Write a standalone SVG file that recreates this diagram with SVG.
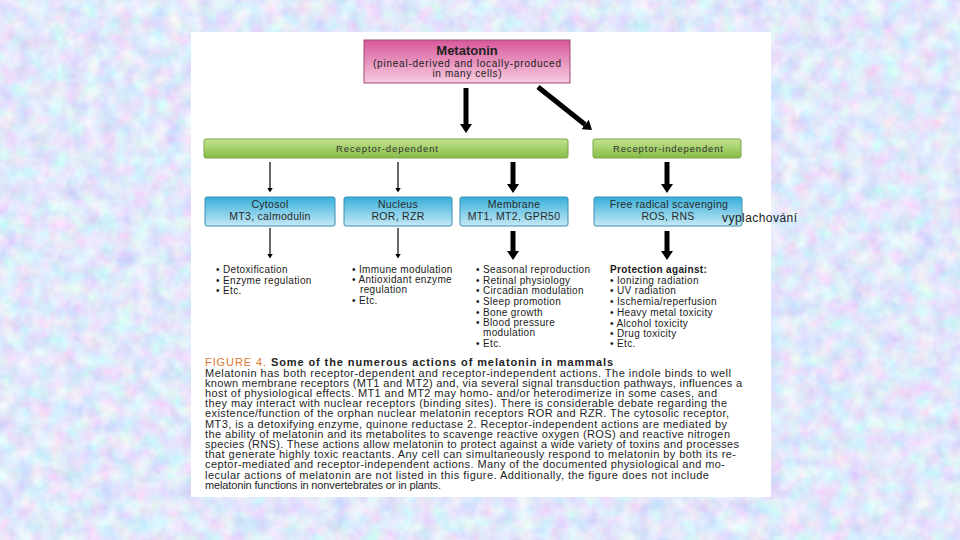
<svg xmlns="http://www.w3.org/2000/svg" width="960" height="540" viewBox="0 0 960 540">
<defs>
  <filter id="mottle" x="0" y="0" width="100%" height="100%">
    <feTurbulence type="fractalNoise" baseFrequency="0.06" numOctaves="3" seed="7"/>
    <feColorMatrix type="matrix" values="0.55 0 0 0 0.48  0 0.5 0 0 0.56  0 0 0.2 0 0.86  0 0 0 0 1"/>
  </filter>
  <linearGradient id="pink" x1="0" y1="0" x2="0" y2="1">
    <stop offset="0" stop-color="#d8579a"/>
    <stop offset="1" stop-color="#f6cde0"/>
  </linearGradient>
  <linearGradient id="green" x1="0" y1="0" x2="0" y2="1">
    <stop offset="0" stop-color="#c4e38f"/>
    <stop offset="1" stop-color="#86bd46"/>
  </linearGradient>
  <linearGradient id="blue" x1="0" y1="0" x2="0" y2="1">
    <stop offset="0" stop-color="#36b0da"/>
    <stop offset="1" stop-color="#c6e9f5"/>
  </linearGradient>
  <marker id="thick" markerUnits="userSpaceOnUse" markerWidth="9" markerHeight="12" refX="0" refY="6" orient="auto" viewBox="0 0 9 12">
    <path d="M0,0 L9,6 L0,12 z" fill="#000"/>
  </marker>
  <marker id="thin" markerUnits="userSpaceOnUse" markerWidth="5" markerHeight="6" refX="0.5" refY="3" orient="auto" viewBox="0 0 5 6">
    <path d="M0,0 L5,3 L0,6 z" fill="#000"/>
  </marker>
</defs>
<style>
  text { font-family: "Liberation Sans", Arial, sans-serif; fill: #222; }
  .box { font-size: 10.5px; fill: #2a2a2a; text-anchor: middle; letter-spacing: 0.3px; }
  .bar { font-size: 9.5px; fill: #333; text-anchor: middle; }
  .li { font-size: 10px; fill: #1a1a1a; letter-spacing: 0.35px; }
  .cap { font-size: 11px; fill: #1e1e1e; }
  .thickA { stroke: #000; stroke-width: 5; fill: none; marker-end: url(#thick); }
  .thinA { stroke: #000; stroke-width: 1.2; fill: none; marker-end: url(#thin); }
</style>

<rect x="0" y="0" width="960" height="540" fill="#c2d0f3"/>
<rect x="0" y="0" width="960" height="540" filter="url(#mottle)"/>
<rect x="191" y="32" width="580" height="465" fill="#ffffff"/>

<g id="connectors">
  <line class="thickA" x1="466" y1="88" x2="466" y2="124"/>
  <line class="thickA" x1="538" y1="87" x2="585" y2="124.5"/>
  <line class="thinA" x1="270" y1="162" x2="270" y2="188"/>
  <line class="thinA" x1="398" y1="162" x2="398" y2="188"/>
  <line class="thickA" x1="513" y1="162" x2="513" y2="184"/>
  <line class="thickA" x1="667" y1="162" x2="667" y2="184"/>
  <line class="thinA" x1="270" y1="228" x2="270" y2="254"/>
  <line class="thinA" x1="398" y1="228" x2="398" y2="254"/>
  <line class="thickA" x1="513" y1="231" x2="513" y2="251"/>
  <line class="thickA" x1="667" y1="231" x2="667" y2="251"/>
</g>

<g id="melatonin">
  <rect x="364" y="40" width="206" height="43" fill="url(#pink)" stroke="#9c4a74" stroke-width="1"/>
  <text x="467" y="55" text-anchor="middle" font-size="13" font-weight="bold" fill="#222">Metatonin</text>
  <text x="467" y="67" text-anchor="middle" font-size="10" fill="#222" textLength="188" lengthAdjust="spacing">(pineal-derived and locally-produced</text>
  <text x="467" y="77" text-anchor="middle" font-size="10" fill="#222" textLength="69" lengthAdjust="spacing">in many cells)</text>
</g>

<g id="receptor-dependent">
  <rect x="204" y="139" width="364" height="19" rx="2" fill="url(#green)" stroke="#7aa54a" stroke-width="1"/>
  <text class="bar" x="387" y="152" textLength="102" lengthAdjust="spacing">Receptor-dependent</text>
</g>
<g id="receptor-independent">
  <rect x="593" y="139" width="148" height="19" rx="2" fill="url(#green)" stroke="#7aa54a" stroke-width="1"/>
  <text class="bar" x="668" y="152" textLength="110" lengthAdjust="spacing">Receptor-independent</text>
</g>

<g id="cytosol">
  <rect x="205" y="197" width="130" height="29" rx="2" fill="url(#blue)" stroke="#3a8eb0" stroke-width="1"/>
  <text class="box" x="270" y="208">Cytosol</text>
  <text class="box" x="270" y="220">MT3, calmodulin</text>
</g>
<g id="nucleus">
  <rect x="344" y="197" width="108" height="29" rx="2" fill="url(#blue)" stroke="#3a8eb0" stroke-width="1"/>
  <text class="box" x="398" y="208">Nucleus</text>
  <text class="box" x="398" y="220">ROR, RZR</text>
</g>
<g id="membrane">
  <rect x="460" y="197" width="108" height="29" rx="2" fill="url(#blue)" stroke="#3a8eb0" stroke-width="1"/>
  <text class="box" x="514" y="208">Membrane</text>
  <text class="box" x="514" y="220">MT1, MT2, GPR50</text>
</g>
<g id="free-radical">
  <rect x="594" y="197" width="148" height="29" rx="2" fill="url(#blue)" stroke="#3a8eb0" stroke-width="1"/>
  <text class="box" x="669" y="208">Free radical scavenging</text>
  <text class="box" x="668" y="220">ROS, RNS</text>
</g>

<text x="722" y="222" font-size="12" fill="#000" textLength="75" lengthAdjust="spacing">vyplachování</text>

<g id="list-cytosol">
  <text class="li" x="216" y="273">• Detoxification</text>
  <text class="li" x="216" y="284">• Enzyme regulation</text>
  <text class="li" x="216" y="294">• Etc.</text>
</g>
<g id="list-nucleus">
  <text class="li" x="352" y="273">• Immune modulation</text>
  <text class="li" x="352" y="283">• Antioxidant enzyme</text>
  <text class="li" x="360" y="293">regulation</text>
  <text class="li" x="352" y="304">• Etc.</text>
</g>
<g id="list-membrane">
  <text class="li" x="476" y="273">• Seasonal reproduction</text>
  <text class="li" x="476" y="284">• Retinal physiology</text>
  <text class="li" x="476" y="294">• Circadian modulation</text>
  <text class="li" x="476" y="305">• Sleep promotion</text>
  <text class="li" x="476" y="315.5">• Bone growth</text>
  <text class="li" x="476" y="325.5">• Blood pressure</text>
  <text class="li" x="483" y="335.5" font-size="9.5">modulation</text>
  <text class="li" x="476" y="346.5">• Etc.</text>
</g>
<g id="list-protection">
  <text class="li" x="610" y="273" font-weight="bold">Protection against:</text>
  <text class="li" x="610" y="284">• Ionizing radiation</text>
  <text class="li" x="610" y="294">• UV radiation</text>
  <text class="li" x="610" y="305">• Ischemia/reperfusion</text>
  <text class="li" x="610" y="316">• Heavy metal toxicity</text>
  <text class="li" x="610" y="327">• Alcohol toxicity</text>
  <text class="li" x="610" y="337">• Drug toxicity</text>
  <text class="li" x="610" y="347">• Etc.</text>
</g>

<g id="caption">
  <text class="cap" x="205" y="366" textLength="408" lengthAdjust="spacing" font-size="11.5"><tspan fill="#e0762e">FIGURE 4.</tspan><tspan font-weight="bold"> Some of the numerous actions of melatonin in mammals</tspan></text>
  <text class="cap" x="205" y="376.5" textLength="526" lengthAdjust="spacing">Melatonin has both receptor-dependent and receptor-independent actions. The indole binds to well</text>
  <text class="cap" x="205" y="386.8" textLength="537" lengthAdjust="spacing">known membrane receptors (MT1 and MT2) and, via several signal transduction pathways, influences a</text>
  <text class="cap" x="205" y="397" textLength="512" lengthAdjust="spacing">host of physiological effects. MT1 and MT2 may homo- and/or heterodimerize in some cases, and</text>
  <text class="cap" x="205" y="407.2" textLength="522" lengthAdjust="spacing">they may interact with nuclear receptors (binding sites). There is considerable debate regarding the</text>
  <text class="cap" x="205" y="417.4" textLength="524" lengthAdjust="spacing">existence/function of the orphan nuclear melatonin receptors ROR and RZR. The cytosolic receptor,</text>
  <text class="cap" x="205" y="427.6" textLength="522" lengthAdjust="spacing">MT3, is a detoxifying enzyme, quinone reductase 2. Receptor-independent actions are mediated by</text>
  <text class="cap" x="205" y="437.8" textLength="525" lengthAdjust="spacing">the ability of melatonin and its metabolites to scavenge reactive oxygen (ROS) and reactive nitrogen</text>
  <text class="cap" x="205" y="448" textLength="534" lengthAdjust="spacing">species (RNS). These actions allow melatonin to protect against a wide variety of toxins and processes</text>
  <text class="cap" x="205" y="458.2" textLength="531" lengthAdjust="spacing">that generate highly toxic reactants. Any cell can simultaneously respond to melatonin by both its re-</text>
  <text class="cap" x="205" y="468.4" textLength="520" lengthAdjust="spacing">ceptor-mediated and receptor-independent actions. Many of the documented physiological and mo-</text>
  <text class="cap" x="205" y="478.6" textLength="504" lengthAdjust="spacing">lecular actions of melatonin are not listed in this figure. Additionally, the figure does not include</text>
  <text class="cap" x="205" y="488.8" textLength="236" lengthAdjust="spacing">melatonin functions in nonvertebrates or in plants.</text>
</g>
</svg>
